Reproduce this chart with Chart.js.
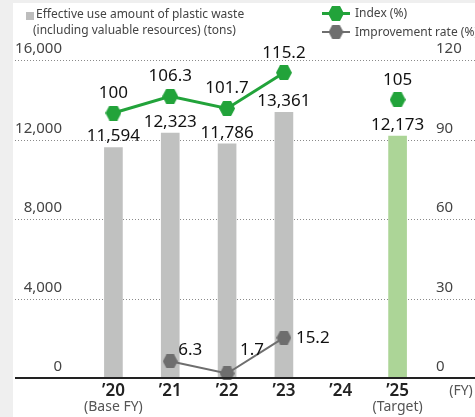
<!DOCTYPE html>
<html>
<head>
<meta charset="utf-8">
<script src="https://cdn.jsdelivr.net/npm/chart.js@4"></script>
<style>
  html, body { margin: 0; padding: 0; background: #efefef; }
  #wrap { width: 475px; height: 417px; position: relative; }
</style>
</head>
<body>
<div id="wrap"><canvas id="chart1" width="475" height="417"></canvas></div>
<script>
// data
const categories = ["’20", "’21", "’22", "’23", "’24", "’25"];
const subLabels = ["(Base FY)", "", "", "", "", "(Target)"];
const amountTons = [11594, 12323, 11786, 13361, null, 12173];
const indexPct = [100, 106.3, 101.7, 115.2, null, 105];
const improvementPct = [null, 6.3, 1.7, 15.2, null, null];
const leftTicks = [0, 4000, 8000, 12000, 16000];
const rightTicks = [0, 30, 60, 90, 120];

const FONT = "'Noto Sans', sans-serif";
const GREEN = "#22a33a";
const GREY_LINE = "#6e6e6e";
const barColors = amountTons.map((v, i) => i === 5 ? "#acd597" : "#c0c1c0");

function hexagon(color, w, h) {
  const c = document.createElement("canvas");
  c.width = w; c.height = h;
  const g = c.getContext("2d");
  g.fillStyle = color;
  g.beginPath();
  g.moveTo(0, h / 2);
  g.lineTo(w / 4, 0);
  g.lineTo(3 * w / 4, 0);
  g.lineTo(w, h / 2);
  g.lineTo(3 * w / 4, h);
  g.lineTo(w / 4, h);
  g.closePath();
  g.fill();
  return c;
}
const hexGreen = hexagon(GREEN, 16, 15);
const hexGrey = hexagon(GREY_LINE, 15, 14);

const fmt = (v) => v.toLocaleString("en-US");

const decorations = {
  id: "decorations",
  beforeDraw(chart) {
    const ctx = chart.ctx;
    const yL = chart.scales.yL;
    const yR = chart.scales.yR;
    ctx.save();
    ctx.fillStyle = "#efefef";
    ctx.fillRect(0, 0, chart.width, chart.height);
    ctx.fillStyle = "#ffffff";
    ctx.fillRect(13, 3, chart.width - 13, chart.height - 3);

    // dotted grid
    ctx.strokeStyle = "#8a8a8a";
    ctx.lineWidth = 1;
    ctx.setLineDash([1, 2]);
    leftTicks.forEach((t) => {
      if (t === 0) return;
      const y = Math.round(yL.getPixelForValue(t)) + 0.5;
      ctx.beginPath();
      ctx.moveTo(15, y);
      ctx.lineTo(chart.width, y);
      ctx.stroke();
    });
    ctx.setLineDash([]);

    // tick labels above the grid lines
    ctx.font = "15px " + FONT;
    ctx.fillStyle = "#444";
    ctx.textBaseline = "middle";
    ctx.textAlign = "right";
    leftTicks.forEach((t) => {
      ctx.fillText(fmt(t), 62, yL.getPixelForValue(t) - 11);
    });
    ctx.textAlign = "left";
    rightTicks.forEach((t) => {
      ctx.fillText(String(t), 436, yR.getPixelForValue(t) - 11);
    });

    // legend
    ctx.fillStyle = "#bdbdbd";
    ctx.fillRect(26, 12, 8, 8);
    ctx.fillStyle = "#444";
    ctx.font = "12px " + FONT;
    ctx.fillText("Effective use amount of plastic waste", 36, 15);
    ctx.fillText("(including valuable resources) (tons)", 33, 31);

    ctx.strokeStyle = GREEN;
    ctx.lineWidth = 3;
    ctx.beginPath(); ctx.moveTo(322, 13.5); ctx.lineTo(350, 13.5); ctx.stroke();
    ctx.drawImage(hexGreen, 336 - 8, 13.5 - 7.5);
    ctx.strokeStyle = GREY_LINE;
    ctx.lineWidth = 2;
    ctx.beginPath(); ctx.moveTo(322, 32); ctx.lineTo(350, 32); ctx.stroke();
    ctx.drawImage(hexGrey, 336 - 7.5, 32 - 7);
    ctx.fillStyle = "#444";
    ctx.fillText("Index (%)", 355, 14);
    ctx.fillText("Improvement rate (%)", 355, 33);
    ctx.restore();
  },
  afterDatasetsDraw(chart) {
    const ctx = chart.ctx;
    const x = chart.scales.x;
    const yL = chart.scales.yL;
    ctx.save();

    // axis line
    const y0 = Math.round(yL.getPixelForValue(0));
    ctx.strokeStyle = "#222";
    ctx.lineWidth = 2;
    ctx.beginPath();
    ctx.moveTo(15, y0);
    ctx.lineTo(chart.width, y0);
    ctx.stroke();

    // category labels
    ctx.textAlign = "center";
    ctx.textBaseline = "middle";
    categories.forEach((c, i) => {
      const px = x.getPixelForValue(i);
      ctx.fillStyle = "#222";
      ctx.font = "600 17px " + FONT;
      ctx.fillText(c, px, 391);
      if (subLabels[i]) {
        ctx.fillStyle = "#555";
        ctx.font = "14px " + FONT;
        ctx.fillText(subLabels[i], px, 407);
      }
    });
    ctx.fillStyle = "#555";
    ctx.font = "14px " + FONT;
    ctx.fillText("(FY)", 461, 391);

    // value labels
    ctx.fillStyle = "#111";
    ctx.font = "17px " + FONT;
    chart.getDatasetMeta(0).data.forEach((el, i) => {
      if (amountTons[i] == null) return;
      ctx.fillText(fmt(amountTons[i]), el.x, el.y - 11);
    });
    chart.getDatasetMeta(1).data.forEach((el, i) => {
      if (indexPct[i] == null) return;
      ctx.fillText(String(indexPct[i]), el.x, el.y - 20);
    });
    const impOffsets = { 1: [8, -11], 2: [13, -23], 3: [12, 0] };
    ctx.textAlign = "left";
    chart.getDatasetMeta(2).data.forEach((el, i) => {
      if (improvementPct[i] == null) return;
      const o = impOffsets[i] || [10, 0];
      ctx.fillText(String(improvementPct[i]), el.x + o[0], el.y + o[1]);
    });
    ctx.restore();
  }
};

new Chart(document.getElementById("chart1"), {
  type: "bar",
  data: {
    labels: categories,
    datasets: [
      {
        type: "bar",
        label: "Effective use amount of plastic waste (including valuable resources) (tons)",
        data: amountTons,
        backgroundColor: barColors,
        barThickness: 18,
        yAxisID: "yL",
        order: 3
      },
      {
        type: "line",
        label: "Index (%)",
        data: indexPct,
        borderColor: GREEN,
        borderWidth: 3,
        pointStyle: hexGreen,
        yAxisID: "yR",
        spanGaps: false,
        clip: false,
        order: 1
      },
      {
        type: "line",
        label: "Improvement rate (%)",
        data: improvementPct,
        borderColor: GREY_LINE,
        borderWidth: 2,
        pointStyle: hexGrey,
        yAxisID: "yR",
        spanGaps: false,
        clip: false,
        order: 2
      }
    ]
  },
  options: {
    responsive: false,
    animation: false,
    layout: { padding: { left: 85, right: 49, top: 60, bottom: 39 } },
    plugins: { legend: { display: false }, tooltip: { enabled: false } },
    scales: {
      x: { display: false, offset: true },
      yL: { display: false, position: "left", min: 0, max: 16000 },
      yR: { display: false, position: "right", min: 0, max: 120 }
    }
  },
  plugins: [decorations]
});
</script>
</body>
</html>
